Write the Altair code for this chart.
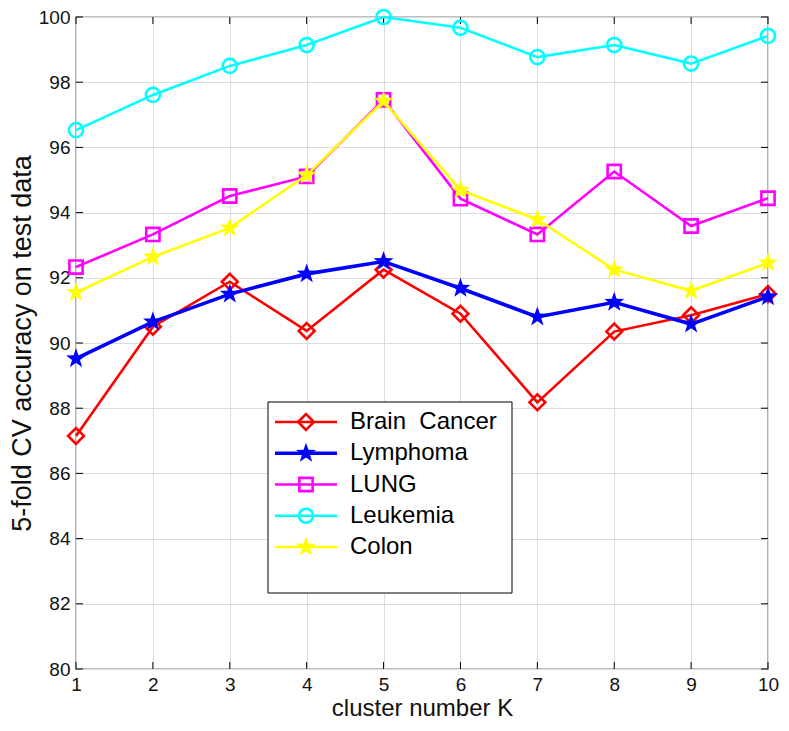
import altair as alt
import pandas as pd

K = [1, 2, 3, 4, 5, 6, 7, 8, 9, 10]
brain = [87.15, 90.50, 91.88, 90.37, 92.25, 90.90, 88.18, 90.35, 90.85, 91.50]
lymphoma = [89.52, 90.65, 91.50, 92.12, 92.50, 91.68, 90.80, 91.25, 90.58, 91.42]
lung = [92.33, 93.33, 94.51, 95.11, 97.46, 94.43, 93.33, 95.26, 93.59, 94.44]
leukemia = [96.53, 97.61, 98.50, 99.14, 100.0, 99.67, 98.77, 99.14, 98.57, 99.42]
colon = [91.55, 92.64, 93.53, 95.15, 97.42, 94.69, 93.79, 92.25, 91.60, 92.46]

series_names = ["Brain\u00a0\u00a0Cancer", "Lymphoma", "LUNG", "Leukemia", "Colon"]
series_vals = [brain, lymphoma, lung, leukemia, colon]
colors = ["#ff0000", "#0000ff", "#ff00ff", "#00ffff", "#ffff00"]
STAR = ("M0,-1L0.235,-0.324L0.951,-0.309L0.38,0.124L0.588,0.809L0,0.4L-0.588,0.809"
        "L-0.38,0.124L-0.951,-0.309L-0.235,-0.324Z")
shapes = ["diamond", STAR, "square", "circle", STAR]
filled = [False, True, False, False, True]
sizes = [250, 440, 175, 200, 440]
widths = [2.6, 3.6, 2.6, 2.6, 2.6]

x_ticks = list(range(1, 11))
y_ticks = list(range(80, 101, 2))

W, H = 692, 652
FONT = "Liberation Sans"

rows = []
for name, vals in zip(series_names, series_vals):
    for k, v in zip(K, vals):
        rows.append({"K": k, "acc": v, "series": name})
df = pd.DataFrame(rows)

xs = alt.Scale(domain=[1, 10], nice=False)
ys = alt.Scale(domain=[80, 100], nice=False)

layers = []
for i, name in enumerate(series_names):
    sub = df[df.series == name]
    base = alt.Chart(sub)
    line = base.mark_line(color=colors[i], strokeWidth=widths[i]).encode(
        x=alt.X("K:Q", scale=xs, axis=alt.Axis(values=x_ticks, format="d", title="cluster number K")),
        y=alt.Y("acc:Q", scale=ys, axis=alt.Axis(values=y_ticks, format="d",
                                                 title="5-fold CV accuracy on test data")),
    )
    if filled[i]:
        pt = base.mark_point(shape=shapes[i], size=sizes[i], filled=True, color=colors[i], opacity=1, strokeWidth=1)
    else:
        pt = base.mark_point(shape=shapes[i], size=sizes[i], filled=False, color=colors[i], opacity=1, strokeWidth=2.6)
    pt = pt.encode(x=alt.X("K:Q", scale=xs), y=alt.Y("acc:Q", scale=ys))
    layers += [line, pt]

# inward ticks on all four sides
xt = pd.DataFrame({"K": x_ticks})
yt = pd.DataFrame({"acc": y_ticks})
tick_bottom = alt.Chart(xt).mark_rule(color="black", strokeWidth=1).encode(
    x=alt.X("K:Q", scale=xs), y=alt.value(H - 7), y2=alt.value(H))
tick_top = alt.Chart(xt).mark_rule(color="black", strokeWidth=1).encode(
    x=alt.X("K:Q", scale=xs), y=alt.value(0), y2=alt.value(7))
tick_left = alt.Chart(yt).mark_rule(color="black", strokeWidth=1).encode(
    y=alt.Y("acc:Q", scale=ys), x=alt.value(0), x2=alt.value(7))
tick_right = alt.Chart(yt).mark_rule(color="black", strokeWidth=1).encode(
    y=alt.Y("acc:Q", scale=ys), x=alt.value(W - 7), x2=alt.value(W))

main = alt.layer(tick_bottom, tick_top, tick_left, tick_right, *layers)

# legend
leg = pd.DataFrame({"series": series_names, "idx": list(range(len(series_names)))})
lscale = alt.Scale(domain=[0, 4], range=[405, 530])
box = alt.Chart(pd.DataFrame({"a": [0]})).mark_rect(fill="white", stroke="black", strokeWidth=1).encode(
    x=alt.value(192), x2=alt.value(436), y=alt.value(385), y2=alt.value(576))
leg_layers = [box]
for i, name in enumerate(series_names):
    sub = leg[leg.series == name]
    b = alt.Chart(sub)
    r = b.mark_rule(color=colors[i], strokeWidth=widths[i]).encode(
        y=alt.Y("idx:Q", scale=lscale, axis=None), x=alt.value(199), x2=alt.value(261))
    if filled[i]:
        p = b.mark_point(shape=shapes[i], size=sizes[i], filled=True, color=colors[i], opacity=1)
    else:
        p = b.mark_point(shape=shapes[i], size=sizes[i], filled=False, color=colors[i], opacity=1, strokeWidth=2.6)
    p = p.encode(y=alt.Y("idx:Q", scale=lscale, axis=None), x=alt.value(230))
    leg_layers += [r, p]
txt = alt.Chart(leg).mark_text(align="left", baseline="middle", font=FONT, fontSize=24, color="black").encode(
    y=alt.Y("idx:Q", scale=lscale, axis=None), x=alt.value(274), text="series:N")
leg_layers.append(txt)
legend = alt.layer(*leg_layers)

chart = alt.layer(main, legend).resolve_scale(y="independent").properties(
    width=W, height=H, padding={"left": 68, "top": 9, "right": 12, "bottom": 54},
    autosize=alt.AutoSizeParams(type="none"),
).configure_view(stroke="black", strokeWidth=1.2).configure_axis(
    grid=True, gridColor="#dcdcdc", gridWidth=1, domain=False, ticks=False, labelFlush=False,
    labelFont=FONT, labelFontSize=19, labelColor="#111111",
    titleFont=FONT, titleFontWeight="normal", titleColor="#111111",
).configure_axisX(labelPadding=6, titlePadding=2, titleFontSize=24).configure_axisY(
    labelPadding=6, titlePadding=2, titleFontSize=27)

chart.save("out.html", embed_options={"renderer": "svg", "actions": False})
